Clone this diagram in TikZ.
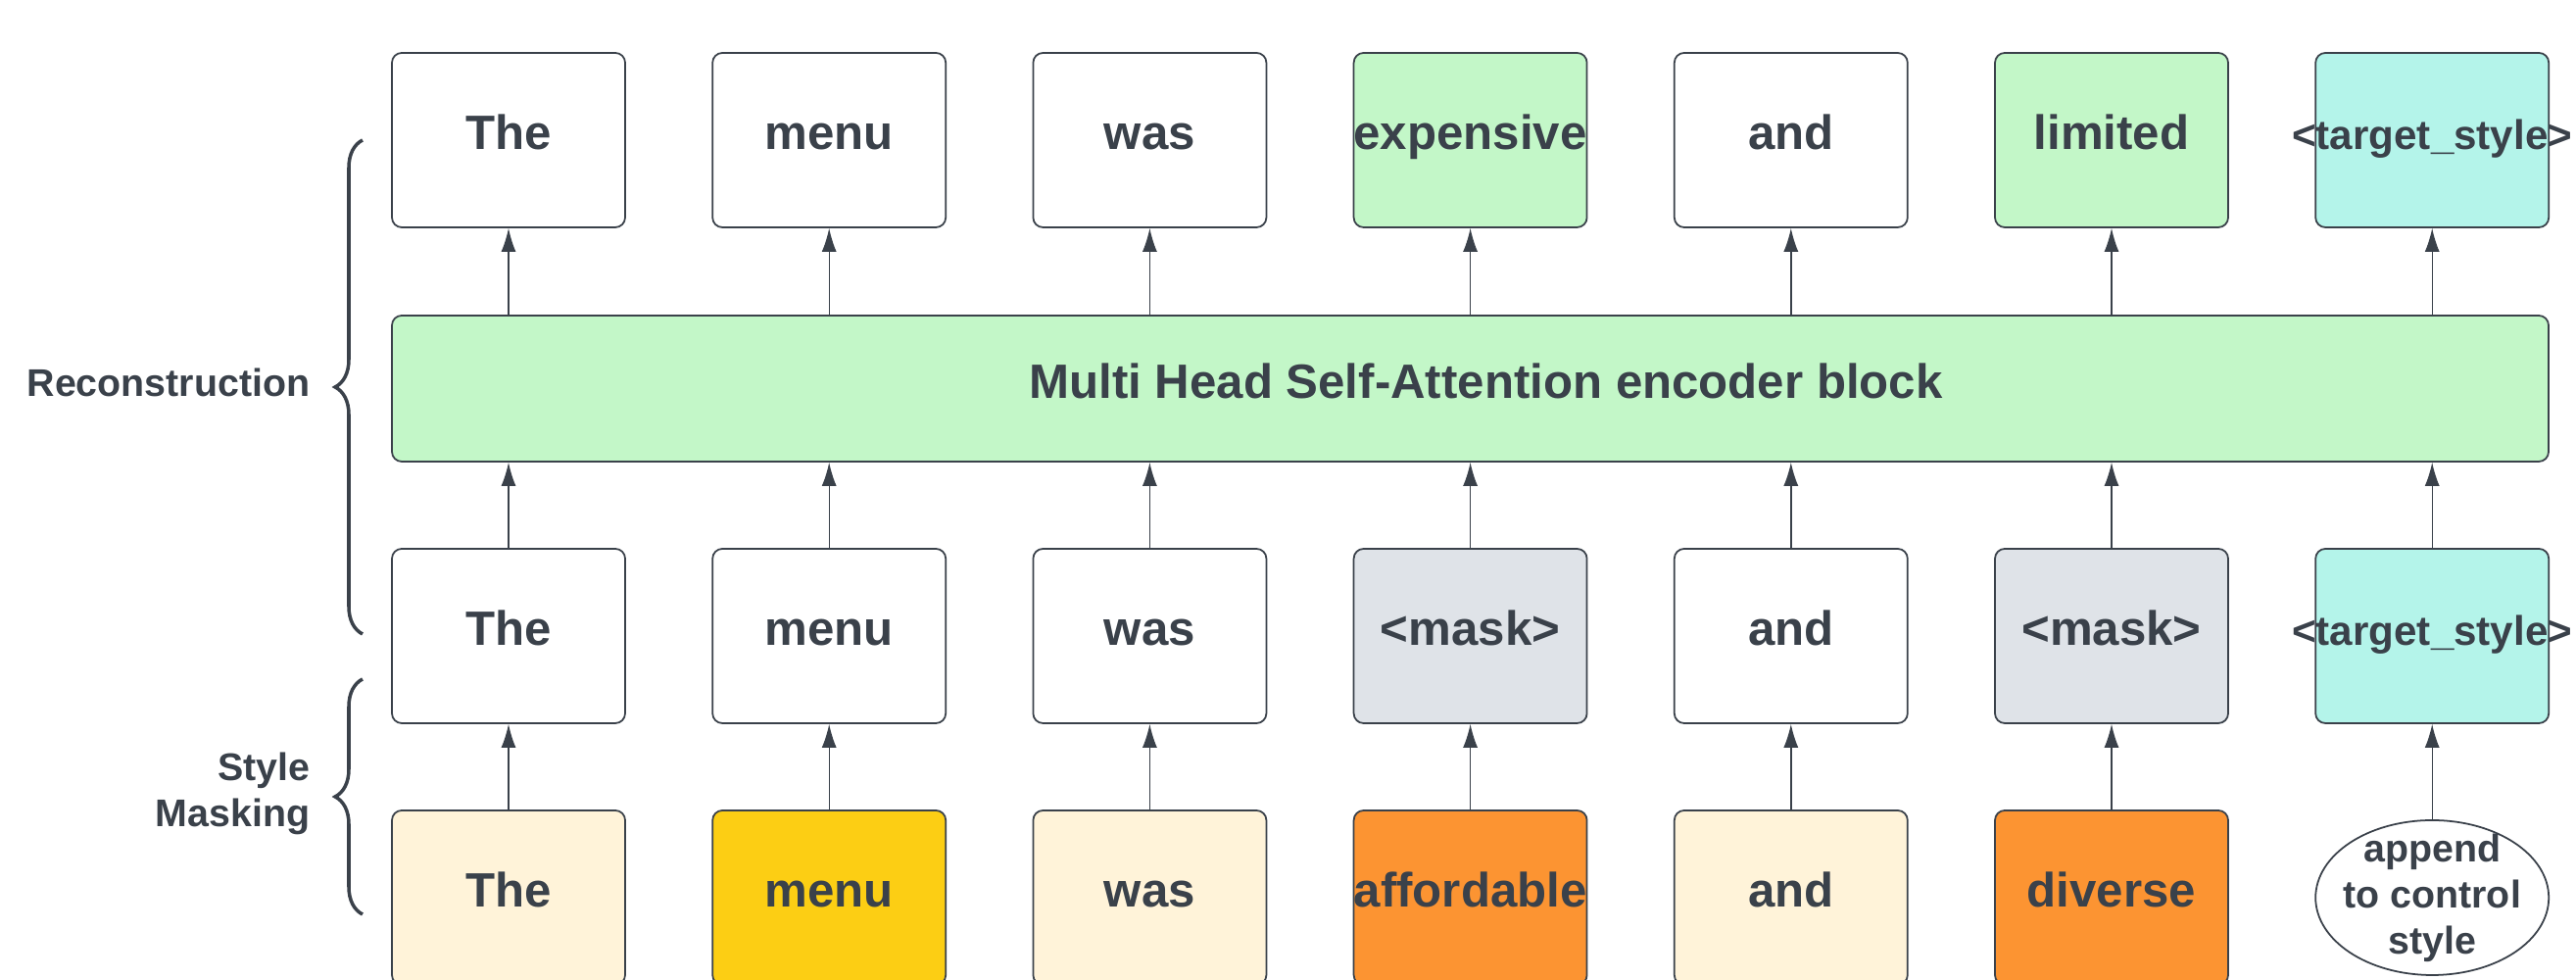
\documentclass[tikz,border=0pt]{standalone}
\usepackage{fontspec}
\setmainfont{Liberation Sans}
\usetikzlibrary{arrows.meta,decorations.pathreplacing,shapes.geometric}
\definecolor{ink}{HTML}{3A414A}
\definecolor{lgreen}{HTML}{C3F7C8}
\definecolor{lcyan}{HTML}{B4F4EA}
\definecolor{lgrey}{HTML}{DFE3E8}
\definecolor{cream}{HTML}{FFF3D9}
\definecolor{gold}{HTML}{FCCE14}
\definecolor{orng}{HTML}{FC9432}
\begin{document}
\begin{tikzpicture}[
    tok/.style={draw=ink, line width=0.5pt, rounded corners=1mm, minimum width=2.38cm, minimum height=1.78cm, inner sep=0pt, text height=0.35cm, text depth=0.15cm, text=ink, font=\fontsize{14}{17}\selectfont\bfseries},
    tgt/.style={tok, fill=lcyan, font=\fontsize{12}{14}\selectfont\bfseries},
    lbl/.style={text=ink, font=\fontsize{11.2}{13.4}\selectfont\bfseries, align=right, inner sep=0pt},
    up/.style={ink, line width=0.4pt, -{Latex[length=2.4mm,width=1.5mm]}},
    brc/.style={ink, line width=1pt, decorate, decoration={brace, amplitude=2.8mm}}
]
            \clip (0,0) rectangle (26.29,10);
            \node[tok] (t1) at (5.19,8.57) {The};
            \node[tok] (t2) at (8.462,8.57) {menu};
            \node[tok] (t3) at (11.734,8.57) {was};
            \node[tok, fill=lgreen] (t4) at (15.006,8.57) {expensive};
            \node[tok] (t5) at (18.278,8.57) {and};
            \node[tok, fill=lgreen] (t6) at (21.55,8.57) {limited};
            \node[tgt] (t7) at (24.822,8.57) {\makebox[0pt]{<target\_style>}};
            \node[tok, fill=lgreen, minimum width=22.01cm, minimum height=1.49cm] (enc) at (15.005,6.035) {\hspace*{0.32cm}Multi Head Self-Attention encoder block};
            \node[tok] (m1) at (5.19,3.51) {The};
            \node[tok] (m2) at (8.462,3.51) {menu};
            \node[tok] (m3) at (11.734,3.51) {was};
            \node[tok, fill=lgrey] (m4) at (15.006,3.51) {<mask>};
            \node[tok] (m5) at (18.278,3.51) {and};
            \node[tok, fill=lgrey] (m6) at (21.55,3.51) {<mask>};
            \node[tgt] (m7) at (24.822,3.51) {\makebox[0pt]{<target\_style>}};
            \node[tok, fill=cream] (b1) at (5.19,0.84) {The};
            \node[tok, fill=gold] (b2) at (8.462,0.84) {menu};
            \node[tok, fill=cream] (b3) at (11.734,0.84) {was};
            \node[tok, fill=orng] (b4) at (15.006,0.84) {affordable};
            \node[tok, fill=cream] (b5) at (18.278,0.84) {and};
            \node[tok, fill=orng] (b6) at (21.55,0.84) {diverse};
            \node[tok, ellipse, rounded corners=0pt, minimum height=1.58cm, inner xsep=-3mm, inner ysep=-4mm, text height=, text depth=, align=center, font=\fontsize{11.2}{13.4}\selectfont\bfseries] (b7) at (24.822,0.84) {append\\to control\\style};
            \draw[up] (enc.north -| t1) -- (t1);
            \draw[up] (enc.north -| t2) -- (t2);
            \draw[up] (enc.north -| t3) -- (t3);
            \draw[up] (enc.north -| t4) -- (t4);
            \draw[up] (enc.north -| t5) -- (t5);
            \draw[up] (enc.north -| t6) -- (t6);
            \draw[up] (enc.north -| t7) -- (t7);
            \draw[up] (m1) -- (enc.south -| m1);
            \draw[up] (m2) -- (enc.south -| m2);
            \draw[up] (m3) -- (enc.south -| m3);
            \draw[up] (m4) -- (enc.south -| m4);
            \draw[up] (m5) -- (enc.south -| m5);
            \draw[up] (m6) -- (enc.south -| m6);
            \draw[up] (m7) -- (enc.south -| m7);
            \draw[up] (b1) -- (m1);
            \draw[up] (b2) -- (m2);
            \draw[up] (b3) -- (m3);
            \draw[up] (b4) -- (m4);
            \draw[up] (b5) -- (m5);
            \draw[up] (b6) -- (m6);
            \draw[up] (b7) -- (m7);
            \draw[brc] (3.70,3.53) -- (3.70,8.57);
            \draw[brc] (3.70,0.67) -- (3.70,3.07);
            \node[lbl, anchor=east] (recon) at (3.17,6.1) {Reconstruction};
            \node[lbl, anchor=east] (stmask) at (3.17,1.9) {Style\\Masking};
        \end{tikzpicture}
\end{document}
